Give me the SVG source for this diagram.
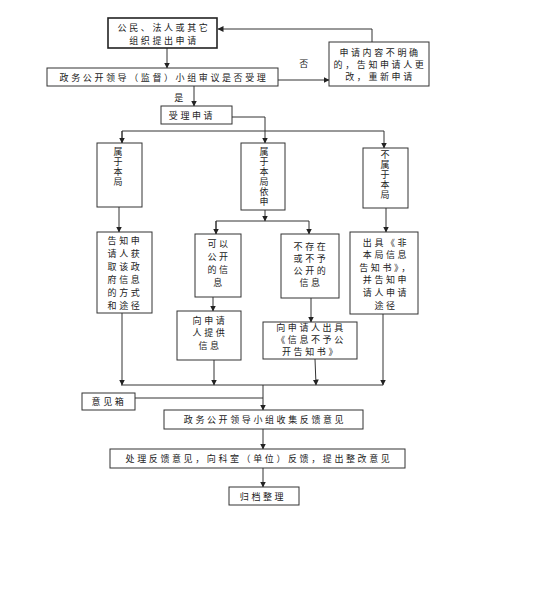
<svg xmlns="http://www.w3.org/2000/svg" width="537" height="600" viewBox="0 0 537 600">
<style>
.box{fill:#fff;stroke:#333;stroke-width:1}
.thick{stroke-width:1.6;stroke:#222}
.t{font-family:"Noto Sans CJK SC","Liberation Serif",sans-serif;font-size:9px;fill:#222;text-anchor:middle;dominant-baseline:central;letter-spacing:2.6px}
.v{font-family:"Noto Sans CJK SC","Liberation Serif",sans-serif;font-size:9px;fill:#222;writing-mode:vertical-rl;letter-spacing:1px}
.c{fill:none;stroke:#333;stroke-width:1}
</style>
<defs>
<marker id="a" markerWidth="6" markerHeight="6" refX="5.5" refY="3" orient="auto" markerUnits="userSpaceOnUse">
<path d="M0,0 L6,3 L0,6 Z" fill="#222"/>
</marker>
</defs>
<rect width="537" height="600" fill="#fff"/>
<g id="connectors">
<line class="c" x1="167" y1="48" x2="167" y2="68" marker-end="url(#a)"/>
<line class="c" x1="278" y1="80" x2="329" y2="80" marker-end="url(#a)"/>
<path class="c" d="M372,42 V29 H218" marker-end="url(#a)"/>
<line class="c" x1="194" y1="86" x2="194" y2="106" marker-end="url(#a)"/>
<path class="c" d="M232,117 H265 V143" marker-end="url(#a)"/>
<path class="c" d="M122,143 V131 H384 V148" marker-end="url(#a)"/>
<line class="c" x1="122" y1="131" x2="122" y2="143" marker-end="url(#a)"/>
<line class="c" x1="119" y1="207" x2="119" y2="232" marker-end="url(#a)"/>
<line class="c" x1="265" y1="210" x2="265" y2="221" marker-end="url(#a)"/>
<path class="c" d="M216,234 V221 H309 V234" marker-end="url(#a)"/>
<line class="c" x1="216" y1="221" x2="216" y2="234" marker-end="url(#a)"/>
<line class="c" x1="386" y1="208" x2="386" y2="232" marker-end="url(#a)"/>
<line class="c" x1="213" y1="297" x2="213" y2="311" marker-end="url(#a)"/>
<line class="c" x1="311" y1="298" x2="311" y2="322" marker-end="url(#a)"/>
<line class="c" x1="122" y1="313" x2="122" y2="385" marker-end="url(#a)"/>
<line class="c" x1="214" y1="360" x2="214" y2="385" marker-end="url(#a)"/>
<line class="c" x1="315" y1="359" x2="316" y2="385" marker-end="url(#a)"/>
<line class="c" x1="383" y1="314" x2="383" y2="385" marker-end="url(#a)"/>
<line class="c" x1="121" y1="385" x2="383" y2="385"/>
<line class="c" x1="263" y1="385" x2="263" y2="410" marker-end="url(#a)"/>
<line class="c" x1="135" y1="398" x2="263" y2="398"/>
<line class="c" x1="263" y1="429" x2="263" y2="449" marker-end="url(#a)"/>
<line class="c" x1="263" y1="468" x2="263" y2="487" marker-end="url(#a)"/>
<text class="t" x="305" y="63">否</text>
<text class="t" x="180" y="97">是</text>
</g>
<g id="n1"><rect class="box thick" x="108" y="18" width="109" height="30"/><text class="t"><tspan x="164" y="27">公民、法人或其它</tspan><tspan x="164" y="40">组织提出申请</tspan></text></g>
<g id="n2"><rect class="box" x="47" y="68" width="231" height="18"/><text class="t" x="164" y="77">政务公开领导（监督）小组审议是否受理</text></g>
<g id="n3"><rect class="box" x="329" y="42" width="100" height="44"/><text class="t"><tspan x="380" y="52">申请内容不明确</tspan><tspan x="380" y="64">的，告知申请人更</tspan><tspan x="380" y="76">改，重新申请</tspan></text></g>
<g id="n4"><rect class="box" x="161" y="106" width="71" height="18"/><text class="t" x="192" y="115">受理申请</text></g>
<g id="n5"><rect class="box" x="97" y="143" width="45" height="64"/><text class="v" x="118" y="147">属于本局</text></g>
<g id="n6"><rect class="box" x="241" y="143" width="44" height="67"/><text class="v" x="264" y="147">属于本局依申</text></g>
<g id="n7"><rect class="box" x="363" y="148" width="45" height="60"/><text class="v" x="385" y="150">不属于本局</text></g>
<g id="n8"><rect class="box" x="97" y="232" width="55" height="81"/><text class="t"><tspan x="125" y="240">告知申</tspan><tspan x="125" y="253">请人获</tspan><tspan x="125" y="266">取该政</tspan><tspan x="125" y="279">府信息</tspan><tspan x="125" y="292">的方式</tspan><tspan x="125" y="305">和途径</tspan></text></g>
<g id="n9"><rect class="box" x="195" y="234" width="46" height="63"/><text class="t"><tspan x="219" y="243">可以</tspan><tspan x="219" y="256">公开</tspan><tspan x="219" y="269">的信</tspan><tspan x="219" y="282">息</tspan></text></g>
<g id="n10"><rect class="box" x="281" y="234" width="58" height="64"/><text class="t"><tspan x="311" y="246">不存在</tspan><tspan x="311" y="258">或不予</tspan><tspan x="311" y="270">公开的</tspan><tspan x="311" y="282">信息</tspan></text></g>
<g id="n11"><rect class="box" x="350" y="232" width="68" height="82"/><text class="t"><tspan x="386" y="242">出具《非</tspan><tspan x="386" y="254">本局信息</tspan><tspan x="386" y="267">告知书》，</tspan><tspan x="386" y="279">并告知申</tspan><tspan x="386" y="292">请人申请</tspan><tspan x="386" y="305">途径</tspan></text></g>
<g id="n12"><rect class="box" x="177" y="311" width="64" height="49"/><text class="t"><tspan x="210" y="320">向申请</tspan><tspan x="210" y="332">人提供</tspan><tspan x="210" y="345">信息</tspan></text></g>
<g id="n13"><rect class="box" x="263" y="322" width="94" height="37"/><text class="t"><tspan x="311" y="327">向申请人出具</tspan><tspan x="311" y="339">《信息不予公</tspan><tspan x="311" y="351">开告知书》</tspan></text></g>
<g id="n14"><rect class="box" x="82" y="393" width="53" height="17"/><text class="t" x="109" y="401">意见箱</text></g>
<g id="n15"><rect class="box" x="164" y="410" width="199" height="19"/><text class="t" x="265" y="419">政务公开领导小组收集反馈意见</text></g>
<g id="n16"><rect class="box" x="110" y="449" width="295" height="19"/><text class="t" x="259" y="458">处理反馈意见，向科室（单位）反馈，提出整改意见</text></g>
<g id="n17"><rect class="box" x="229" y="487" width="70" height="18"/><text class="t" x="263" y="496">归档整理</text></g>
</svg>
